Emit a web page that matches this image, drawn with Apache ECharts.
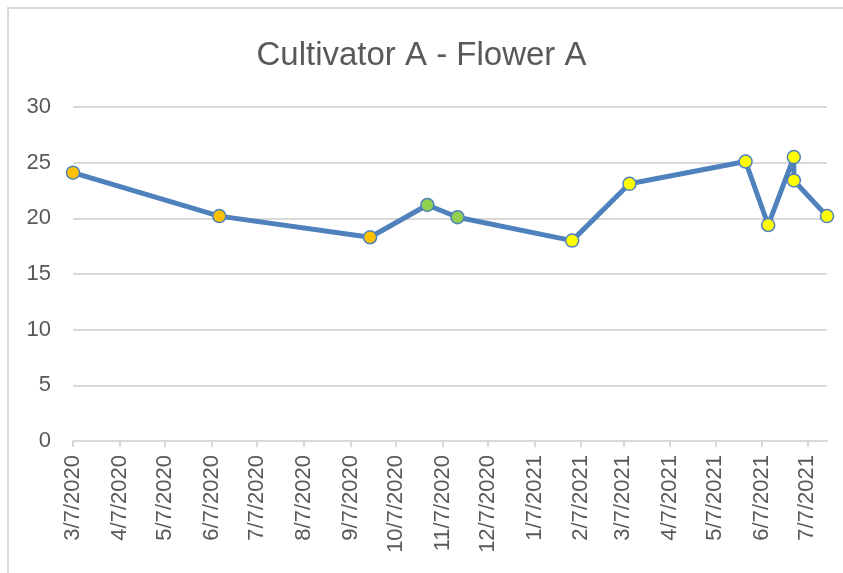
<!DOCTYPE html>
<html>
<head>
<meta charset="utf-8">
<title>Cultivator A - Flower A</title>
<script src="https://cdn.jsdelivr.net/npm/echarts@6/dist/echarts.min.js"></script>
<style>
  html, body { margin: 0; padding: 0; background: #fff; }
  #main { width: 843px; height: 573px; }
</style>
</head>
<body>
<div id="main"></div>
<script>
// sample dates and measured values
const sampleDates = ['2020-03-07', '2020-06-12', '2020-09-20', '2020-10-28', '2020-11-17', '2021-02-01',
  '2021-03-11', '2021-05-27', '2021-06-11', '2021-06-28', '2021-06-28', '2021-07-20']
const sampleValues = [24.1, 20.2, 18.3, 21.2, 20.1, 18.0, 23.1, 25.1, 19.4, 25.5, 23.4, 20.2]
// stage of each sample (marker colour)
const sampleStage = [1, 1, 1, 2, 2, 3, 3, 3, 3, 3, 3, 3]
// x-axis tick dates (the 7th of every month)
const tickDates = ['2020-03-07', '2020-04-07', '2020-05-07', '2020-06-07', '2020-07-07', '2020-08-07',
  '2020-09-07', '2020-10-07', '2020-11-07', '2020-12-07', '2021-01-07', '2021-02-07', '2021-03-07',
  '2021-04-07', '2021-05-07', '2021-06-07', '2021-07-07']
const yTicks = [0, 5, 10, 15, 20, 25, 30]

const stageColors = { 1: '#FFC000', 2: '#92D050', 3: '#FFFF00' }
const lineBlue = '#4F81BD'
const textGray = '#595959'

// dates as day numbers (UTC) so the axis is a plain value axis
function toDay (s) {
  const p = s.split('-')
  return Date.UTC(+p[0], +p[1] - 1, +p[2]) / 86400000
}

function fmtDate (v) {
  const d = new Date(Math.round(v) * 86400000)
  return (d.getUTCMonth() + 1) + '/' + d.getUTCDate() + '/' + d.getUTCFullYear()
}

const seriesData = sampleDates.map((d, i) => ({
  value: [toDay(d), sampleValues[i]],
  itemStyle: { color: stageColors[sampleStage[i]] }
}))
const tickDays = tickDates.map(toDay)

const myChart = echarts.init(document.getElementById('main'), null, { renderer: 'canvas' })
const option = {
  animation: false,
  backgroundColor: '#fff',
  title: {
    text: 'Cultivator A - Flower A',
    left: 'center',
    top: 34,
    textStyle: {
      fontFamily: 'Liberation Sans',
      fontSize: 33,
      fontWeight: 'normal',
      color: textGray
    }
  },
  graphic: [
    {
      type: 'rect',
      shape: { x: 8, y: 8, width: 900, height: 700 },
      style: { fill: 'none', stroke: '#d9d9d9', lineWidth: 2 },
      silent: true
    }
  ],
  grid: {
    left: 73,
    right: 16,
    top: 107,
    bottom: 132,
    outerBoundsMode: 'none'
  },
  xAxis: {
    type: 'value',
    min: toDay(sampleDates[0]),
    max: toDay(sampleDates[sampleDates.length - 1]),
    axisLine: { show: true, lineStyle: { color: '#d9d9d9', width: 2 } },
    axisTick: {
      show: true,
      customValues: tickDays,
      length: 6,
      lineStyle: { color: '#d9d9d9', width: 2 }
    },
    axisLabel: {
      customValues: tickDays,
      rotate: 90,
      margin: 14,
      fontFamily: 'Liberation Sans',
      fontSize: 22,
      color: textGray,
      showMinLabel: true,
      showMaxLabel: true,
      hideOverlap: false,
      formatter: (v) => fmtDate(v)
    },
    splitLine: { show: false }
  },
  yAxis: {
    type: 'value',
    min: yTicks[0],
    max: yTicks[yTicks.length - 1],
    interval: 5,
    axisLine: { show: false },
    axisTick: { show: false },
    axisLabel: {
      margin: 22,
      fontFamily: 'Liberation Sans',
      fontSize: 22,
      color: textGray
    },
    splitLine: { lineStyle: { color: '#d9d9d9', width: 2 } }
  },
  series: [
    {
      type: 'line',
      data: seriesData,
      symbol: 'circle',
      symbolSize: 13,
      lineStyle: { color: lineBlue, width: 5 },
      itemStyle: { borderColor: lineBlue, borderWidth: 1.5 },
      emphasis: { disabled: true }
    }
  ]
}
myChart.setOption(option)
</script>
</body>
</html>
